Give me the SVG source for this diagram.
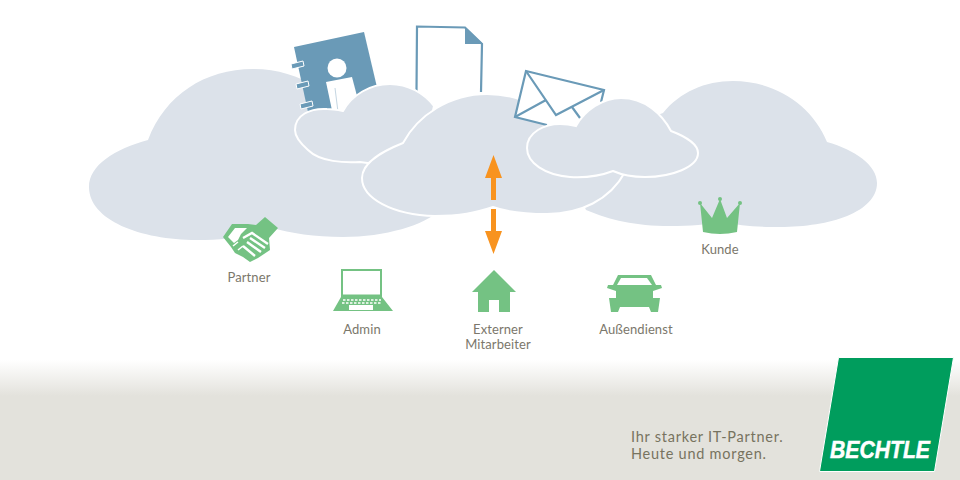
<svg xmlns="http://www.w3.org/2000/svg" width="960" height="480" viewBox="0 0 960 480">
<style>
.cl{fill:#dce2ea}
.cs{fill:#dce2ea;stroke:#fff;stroke-width:2}
.ol{fill:none;stroke:#6a9ab7;stroke-width:2.2;stroke-linejoin:miter}
.bl{fill:#6a9ab7}
.g{fill:#74c283}
.w{fill:#fff}
.t{font-family:"Lato","Liberation Sans",sans-serif;font-size:13px;fill:#7b776b;text-anchor:middle;letter-spacing:.1px}
.s{font-family:"Lato","Liberation Sans",sans-serif;font-size:14.5px;fill:#77735f;letter-spacing:.75px}
.o{fill:#f8931f}
</style>
<defs><linearGradient id="fade" x1="0" y1="0" x2="0" y2="1"><stop offset="0" stop-color="#fff"/><stop offset="1" stop-color="#e3e2dc"/></linearGradient></defs>
<rect width="960" height="480" fill="#fff"/>
<rect x="0" y="360" width="960" height="36" fill="url(#fade)"/>
<rect x="0" y="396" width="960" height="84" fill="#e3e2dc"/>
<g id="cloud-left">
<path class="cl" d="M89,187 C89,165 115,149 148,140 C165,95 205,69 253,69 C300,69 340,95 355,135 L440,210 C425,225 385,237 343,237 C315,237 290,233 272,228 C250,237 225,240 197,240 C140,240 89,220 89,187 Z"/>
</g>
<g id="cloud-right">
<path class="cl" d="M877,183 C877,165 855,150 827,142 C812,105 775,81 733,81 C705,81 680,92 663,113 L560,150 L586,210 C610,220 635,226 670,226 C690,226 708,225 722,221 C740,226 755,227 780,227 C830,227 877,212 877,183 Z"/>
</g>
<g id="document">
<path class="ol" d="M416.5,92 L417,26.5 L465,27.5 L482,44 L481,92"/>
<path class="bl" d="M465,27 L483,44 L465,44 Z"/>
</g>
<g id="book">
<path class="bl" d="M294,47 L364,32 L380,100 L320,122 L308,112 Z"/>
<path class="bl" d="M291,64 l12,-3 1,5 -12,3Z M296,84 l12,-3 1,5 -12,3Z M300,104 l12,-3 1,5 -12,3Z" stroke="#fff" stroke-width="1"/>
<circle class="w" cx="337" cy="68" r="9.5"/>
<path class="w" d="M326,82 L352,77 L362,115 L333,115 Z"/>
<path d="M335,88 L338,112" stroke="#c5d6e2" stroke-width="1" fill="none"/>
</g>
<g id="cloud-small-left">
<path class="cs" d="M295,130 C295,115 310,108 327,109 C333,109 338,110 343,111 C352,95 370,84 390,84 C408,84 424,93 434,106 L420,170 L360,162 C345,163 320,162 308,150 C300,143 295,137 295,130 Z"/>
</g>
<g id="cloud-center">
<path class="cs" d="M403,143 C418,115 450,94 487,94 C515,94 540,105 560,125 L625,172 C610,200 580,214 547,214 C525,214 507,212 493,207 C475,213 460,216 435,216 C392,215 362,198 362,178 C362,162 383,151 403,143 Z"/>
</g>
<g id="envelope">
<path class="w" d="M526,71 L604,90 L600,105 L580,125 L547,125 L515,117 Z"/>
<path class="ol" d="M547,125 L515,117 L526,71 L604,90 L601,102"/>
<path class="ol" d="M526,71 L556,115 L604,90 M515,117 L546,100 M572,107 L580,118"/>
</g>
<g id="cloud-small-right">
<path class="cs" d="M527,148 C527,132 545,124 560,124 C566,124 572,125 576,126 C585,110 603,98 621,98 C645,98 662,114 671,131 C687,137 698,145 698,153 C698,167 672,177 645,177 C632,177 622,175 613,171 C600,176 587,178 570,177 C545,175 527,163 527,148 Z"/>
</g>
<g id="connectors">
<path class="o" d="M493.5,155 L502,178 L496,178 L496,200 L491,200 L491,178 L485,178 Z"/>
<path class="o" d="M491,209 L496,209 L496,231 L502,231 L493.5,254 L485,231 L491,231 Z"/>
</g>
<g id="partner">
<path class="g" d="M265,217 L278,228 L269,238 L270,250 L258,258 L250,262 L243,257 L235,253 L231,247 L223,237 L232,224 L248,224 L256,225 Z"/>
<path class="w" d="M228,237 L235,228 L247,228 L241,234 L238,240 L234,243 Z"/>
<path d="M243,238 L252,233 L268,244 M250,238 L265,248 M247,242 L261,252 M243,246 L255,256" stroke="#fff" stroke-width="2.4" fill="none"/>
<path d="M233,246 L238,242 M238,250 L243,246" stroke="#fff" stroke-width="1.6" fill="none"/>
</g>
<text class="t" x="249" y="282">Partner</text>
<g id="admin">
<path class="g" d="M341,269 H382 V297 L393,311 H333 L341,297 Z"/>
<path class="w" d="M343,271 H380 V294.5 H343 Z"/>
<path d="M343,300 H381 M342,303 H382" stroke="#fff" stroke-width="1.6" stroke-dasharray="2.5 1.5" fill="none"/>
<rect class="w" x="349" y="305" width="24" height="5"/>
</g>
<text class="t" x="362" y="334">Admin</text>
<g id="house">
<path class="g" d="M494,270 L516,292 H510 V312 H499 V300 H489 V312 H478 V292 H472 Z"/>
</g>
<text class="t" x="498" y="334">Externer</text>
<text class="t" x="498" y="349">Mitarbeiter</text>
<g id="car">
<path class="g" d="M618,275 H651 L656,285 H661 L662,288 L653,291 V298 H660 L658,312 H651 L649,307 H620 L618,312 H611 L609,298 H616 V291 L607,288 L608,285 H613 Z"/>
<path class="w" d="M621,278 H647 L652,285 H617 Z"/>
</g>
<text class="t" x="636" y="334">Außendienst</text>
<g id="crown">
<path class="g" d="M700,203 L712,218 L720,199 L727,218 L740,203 L737,232 Q720,236 703,232 Z"/>
<circle class="g" cx="700" cy="203" r="2"/><circle class="g" cx="720" cy="199" r="2"/><circle class="g" cx="740" cy="203" r="2"/>
</g>
<text class="t" x="720" y="254">Kunde</text>
<g id="logo">
<path d="M838.5,357.5 H953.5 L934.5,471.5 H819.5 Z" fill="#009d5d" stroke="#fff" stroke-width="1"/>
<text x="830" y="458" font-family="'Liberation Sans',sans-serif" font-size="23" font-weight="bold" font-style="italic" fill="#fff" stroke="#fff" stroke-width=".5" textLength="100" lengthAdjust="spacingAndGlyphs">BECHTLE</text>
</g>
<text class="s" x="631" y="442">Ihr starker IT-Partner.</text>
<text class="s" x="631" y="459">Heute und morgen.</text>
</svg>
